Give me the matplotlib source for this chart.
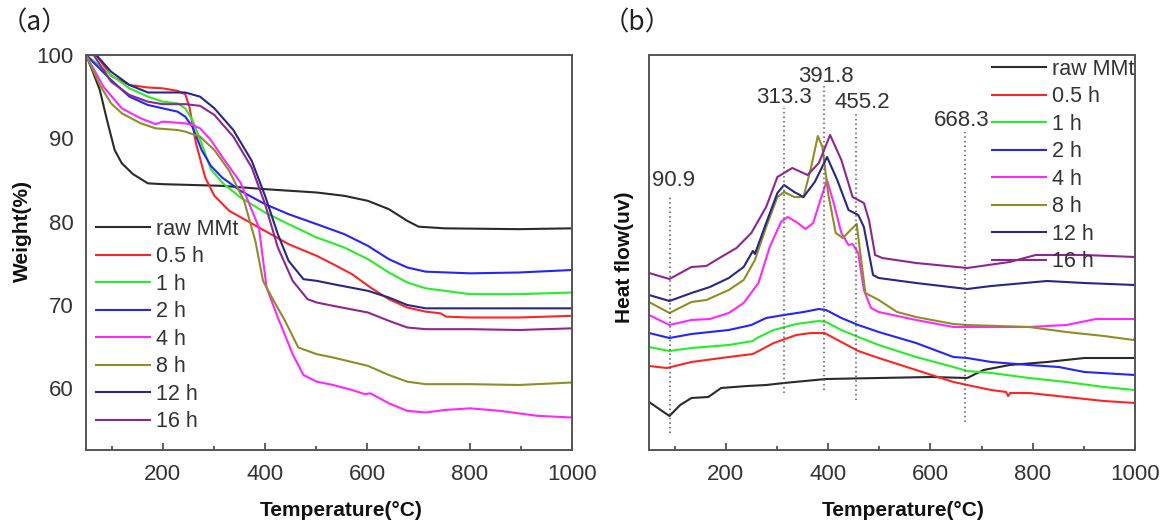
import matplotlib
matplotlib.use("Agg")
import matplotlib.pyplot as plt
from matplotlib.ticker import MultipleLocator

plt.rcParams['font.family'] = ['Liberation Sans', 'DejaVu Sans']

labels = ['raw MMt', '0.5 h', '1 h', '2 h', '4 h', '8 h', '12 h', '16 h']
colors = ['#2a2a2a', '#ff2424', '#26ee26', '#2424ff', '#ff26ff', '#8e8e22', '#26268f', '#8f268f']

# (a) TGA weight (%) vs temperature
tga_raw_x = [50, 62, 77, 91, 106, 120, 142, 171, 200, 316, 400, 501, 555, 601, 642, 678, 700, 751, 896, 1000]
tga_raw_y = [100, 98.2, 95.8, 92.2, 88.6, 87.0, 85.7, 84.6, 84.5, 84.3, 83.9, 83.5, 83.1, 82.5, 81.5, 80.1, 79.4, 79.2, 79.1, 79.2]
tga_05_x = [50, 70, 99, 135, 171, 200, 229, 244, 252, 265, 283, 301, 330, 388, 446, 501, 533, 570, 606, 642, 678, 714, 743, 754, 801, 896, 1000]
tga_05_y = [100, 100, 97.5, 96.4, 96.1, 96.0, 95.7, 95.3, 93.8, 89.4, 85.3, 83.1, 81.3, 79.3, 77.3, 75.9, 74.9, 73.7, 72.1, 70.7, 69.7, 69.2, 69.0, 68.6, 68.5, 68.5, 68.7]
tga_1_x = [50, 99, 135, 171, 200, 229, 244, 258, 276, 294, 316, 352, 400, 446, 501, 555, 601, 642, 678, 714, 801, 896, 1000]
tga_1_y = [100, 97.6, 96.0, 95.0, 94.4, 94.2, 93.6, 92.2, 89.4, 86.3, 84.7, 82.9, 81.1, 79.7, 78.1, 76.9, 75.5, 73.9, 72.7, 72.0, 71.3, 71.3, 71.5]
tga_2_x = [50, 99, 135, 171, 200, 229, 244, 258, 276, 294, 316, 352, 400, 446, 501, 555, 601, 642, 678, 714, 801, 896, 1000]
tga_2_y = [100, 97.0, 95.0, 94.0, 93.6, 93.2, 92.6, 91.4, 88.6, 86.7, 85.3, 83.7, 82.1, 80.9, 79.7, 78.5, 77.1, 75.5, 74.5, 74.0, 73.8, 73.9, 74.2]
tga_4_x = [50, 84, 120, 157, 186, 200, 244, 258, 273, 294, 316, 352, 388, 403, 425, 454, 475, 501, 533, 570, 595, 606, 642, 678, 714, 751, 801, 859, 932, 1000]
tga_4_y = [100, 96.2, 93.6, 92.4, 91.7, 92.0, 91.8, 91.6, 91.2, 89.8, 87.8, 84.7, 79.3, 72.1, 68.5, 64.1, 61.6, 60.8, 60.4, 59.8, 59.3, 59.4, 58.2, 57.3, 57.1, 57.4, 57.6, 57.3, 56.7, 56.5]
tga_8_x = [50, 77, 99, 120, 157, 186, 229, 244, 273, 301, 330, 359, 381, 396, 417, 439, 465, 501, 533, 601, 642, 678, 714, 801, 896, 1000]
tga_8_y = [100, 96.4, 94.2, 93.0, 91.8, 91.2, 91.0, 90.8, 90.2, 88.6, 86.1, 82.5, 77.7, 72.9, 70.5, 68.1, 64.9, 64.1, 63.7, 62.7, 61.6, 60.8, 60.5, 60.5, 60.4, 60.7]
tga_12_x = [50, 70, 99, 135, 171, 200, 244, 273, 301, 338, 374, 400, 425, 446, 475, 501, 533, 601, 642, 678, 714, 801, 896, 1000]
tga_12_y = [100, 100, 98.0, 96.4, 95.5, 95.5, 95.5, 95.0, 93.6, 91.0, 87.3, 83.1, 78.5, 75.3, 73.1, 72.9, 72.5, 71.7, 70.9, 70.0, 69.6, 69.6, 69.6, 69.6]
tga_16_x = [50, 65, 99, 135, 171, 200, 244, 273, 301, 338, 374, 400, 425, 454, 483, 501, 533, 601, 642, 678, 714, 801, 896, 1000]
tga_16_y = [100, 100, 96.8, 95.2, 94.4, 94.1, 94.1, 93.9, 92.8, 90.2, 86.5, 82.1, 76.9, 72.9, 70.7, 70.3, 69.9, 69.1, 68.1, 67.3, 67.1, 67.1, 67.0, 67.2]

# (b) DSC heat flow (arbitrary units) vs temperature
dsc_raw_x = [50, 90, 111, 133, 166, 191, 242, 279, 314, 396, 499, 601, 672, 704, 755, 828, 901, 1000]
dsc_raw_y = [48, 34, 45, 52, 53, 62, 64, 65, 67, 71, 72, 73, 72, 80, 85, 88, 92, 92]
dsc_05_x = [50, 85, 133, 206, 253, 257, 294, 338, 367, 393, 426, 459, 499, 572, 645, 672, 719, 748, 752, 756, 793, 866, 939, 1000]
dsc_05_y = [84, 82, 88, 93, 96, 97, 107, 115, 117, 117, 108, 99, 92, 80, 68, 65, 60, 58, 54, 57, 57, 53, 49, 47]
dsc_1_x = [50, 90, 133, 206, 253, 261, 294, 338, 382, 396, 426, 459, 499, 572, 645, 672, 719, 793, 866, 939, 1000]
dsc_1_y = [103, 99, 102, 105, 109, 112, 120, 126, 129, 128, 120, 113, 105, 93, 83, 79, 77, 72, 68, 63, 60]
dsc_2_x = [50, 90, 133, 206, 250, 279, 314, 352, 382, 396, 426, 459, 499, 572, 645, 672, 719, 793, 851, 901, 1000]
dsc_2_y = [117, 112, 116, 120, 125, 132, 135, 138, 141, 140, 132, 125, 118, 107, 93, 92, 88, 85, 83, 78, 75]
dsc_4_x = [50, 90, 133, 169, 206, 235, 264, 286, 308, 321, 338, 356, 371, 385, 398, 411, 426, 440, 448, 459, 470, 484, 499, 572, 645, 672, 793, 866, 924, 1000]
dsc_4_y = [135, 125, 130, 131, 137, 147, 167, 203, 228, 233, 228, 221, 227, 250, 270, 247, 217, 205, 206, 197, 160, 142, 138, 130, 123, 123, 123, 125, 131, 131]
dsc_8_x = [50, 90, 133, 162, 206, 235, 257, 279, 301, 314, 334, 352, 367, 380, 389, 400, 415, 429, 444, 456, 463, 473, 499, 535, 572, 645, 672, 793, 866, 939, 997, 1000]
dsc_8_y = [148, 137, 148, 150, 160, 170, 190, 223, 253, 258, 253, 253, 283, 314, 303, 257, 217, 212, 220, 226, 197, 157, 150, 138, 133, 126, 125, 123, 118, 114, 110, 112]
dsc_12_x = [50, 90, 133, 169, 206, 235, 253, 257, 279, 301, 314, 334, 352, 374, 398, 418, 440, 459, 470, 488, 499, 572, 672, 719, 828, 901, 1000]
dsc_12_y = [155, 149, 157, 163, 172, 183, 199, 196, 227, 257, 265, 258, 253, 268, 293, 270, 240, 235, 223, 175, 172, 167, 161, 164, 169, 167, 165]
dsc_16_x = [50, 90, 133, 162, 191, 221, 250, 279, 301, 330, 360, 382, 404, 426, 448, 470, 480, 492, 506, 572, 672, 755, 806, 901, 1000]
dsc_16_y = [177, 171, 183, 184, 193, 202, 217, 243, 273, 282, 275, 287, 315, 290, 253, 247, 230, 195, 192, 187, 182, 188, 195, 195, 193]

peak_temps = [90.9, 313.3, 391.8, 455.2, 668.3]
peak_line_low = [17, 57, 60, 50, 28]
peak_line_high = [253, 342, 367, 338, 318]
peak_text_x = [98, 313, 396, 467, 662]
peak_text_y = [270, 353, 374, 348, 330]

tga_x = [tga_raw_x, tga_05_x, tga_1_x, tga_2_x, tga_4_x, tga_8_x, tga_12_x, tga_16_x]
tga_y = [tga_raw_y, tga_05_y, tga_1_y, tga_2_y, tga_4_y, tga_8_y, tga_12_y, tga_16_y]
dsc_x = [dsc_raw_x, dsc_05_x, dsc_1_x, dsc_2_x, dsc_4_x, dsc_8_x, dsc_12_x, dsc_16_x]
dsc_y = [dsc_raw_y, dsc_05_y, dsc_1_y, dsc_2_y, dsc_4_y, dsc_8_y, dsc_12_y, dsc_16_y]

W, H = 1163, 524
fig = plt.figure(figsize=(W / 100, H / 100), dpi=100)
ax1 = fig.add_axes([86 / W, 74 / H, 486 / W, 395 / H])
ax2 = fig.add_axes([649 / W, 74 / H, 486 / W, 395 / H])

for ax in (ax1, ax2):
    for s in ax.spines.values():
        s.set_color('#555555')
        s.set_linewidth(1.4)
    ax.set_xlim(50, 1000)
    ax.xaxis.set_major_locator(MultipleLocator(200))
    ax.xaxis.set_minor_locator(MultipleLocator(100))
    ax.tick_params(axis='x', which='major', direction='in', length=5, width=1.2,
                   color='#444444', labelsize=16, labelcolor='#333333', pad=10)
    ax.tick_params(axis='x', which='minor', direction='in', length=3, width=1.2, color='#444444')
    ax.tick_params(axis='y', length=0, labelsize=16, labelcolor='#333333', pad=9)

leg_kw = dict(frameon=False, fontsize=15.5, handlelength=2.5, handletextpad=0.3,
              labelspacing=0.3, borderpad=0, borderaxespad=0, labelcolor='#333333')

for xs, ys, c, lab in zip(tga_x, tga_y, colors, labels):
    ax1.plot(xs, ys, color=c, lw=1.5, label=lab)
ax1.set_ylim(52.6, 100)
ax1.set_yticks([60, 70, 80, 90, 100])
ax1.legend(loc='lower left', bbox_to_anchor=(0.02, 0.045), **leg_kw)

for xs, ys, c, lab in zip(dsc_x, dsc_y, colors, labels):
    ax2.plot(xs, ys, color=c, lw=1.5, label=lab)
ax2.set_ylim(0, 395)
ax2.set_yticks([])
for t, lo, hi in zip(peak_temps, peak_line_low, peak_line_high):
    ax2.plot([t, t], [lo, hi], color='#555555', lw=1.1, ls=(0, (1, 2)))
for t, tx, ty in zip(peak_temps, peak_text_x, peak_text_y):
    ax2.text(tx, ty, f'{t:.1f}', ha='center', va='center', fontsize=16, color='#333333')
ax2.legend(loc='upper left', bbox_to_anchor=(0.706, 0.99), **leg_kw)

fig.text(22 / W, 1 - 231 / H, 'Weight(%)', rotation=90, ha='center', va='center',
         fontsize=15, fontweight='bold', color='#111111')
fig.text(624 / W, 1 - 257 / H, 'Heat flow(uv)', rotation=90, ha='center', va='center',
         fontsize=15, fontweight='bold', color='#111111')
fig.text(341 / W, 1 - 510 / H, 'Temperature(°C)', ha='center', va='center',
         fontsize=15, fontweight='bold', color='#111111')
fig.text(903 / W, 1 - 510 / H, 'Temperature(°C)', ha='center', va='center',
         fontsize=15, fontweight='bold', color='#111111')
cjk = ['Noto Sans CJK SC', 'DejaVu Sans']
fig.text(1 / W, 1 - 23 / H, '（a）', ha='left', va='center', fontsize=19, family=cjk, color='#222222')
fig.text(603 / W, 1 - 23 / H, '（b）', ha='left', va='center', fontsize=19, family=cjk, color='#222222')

fig.savefig('out.png', dpi=100)
